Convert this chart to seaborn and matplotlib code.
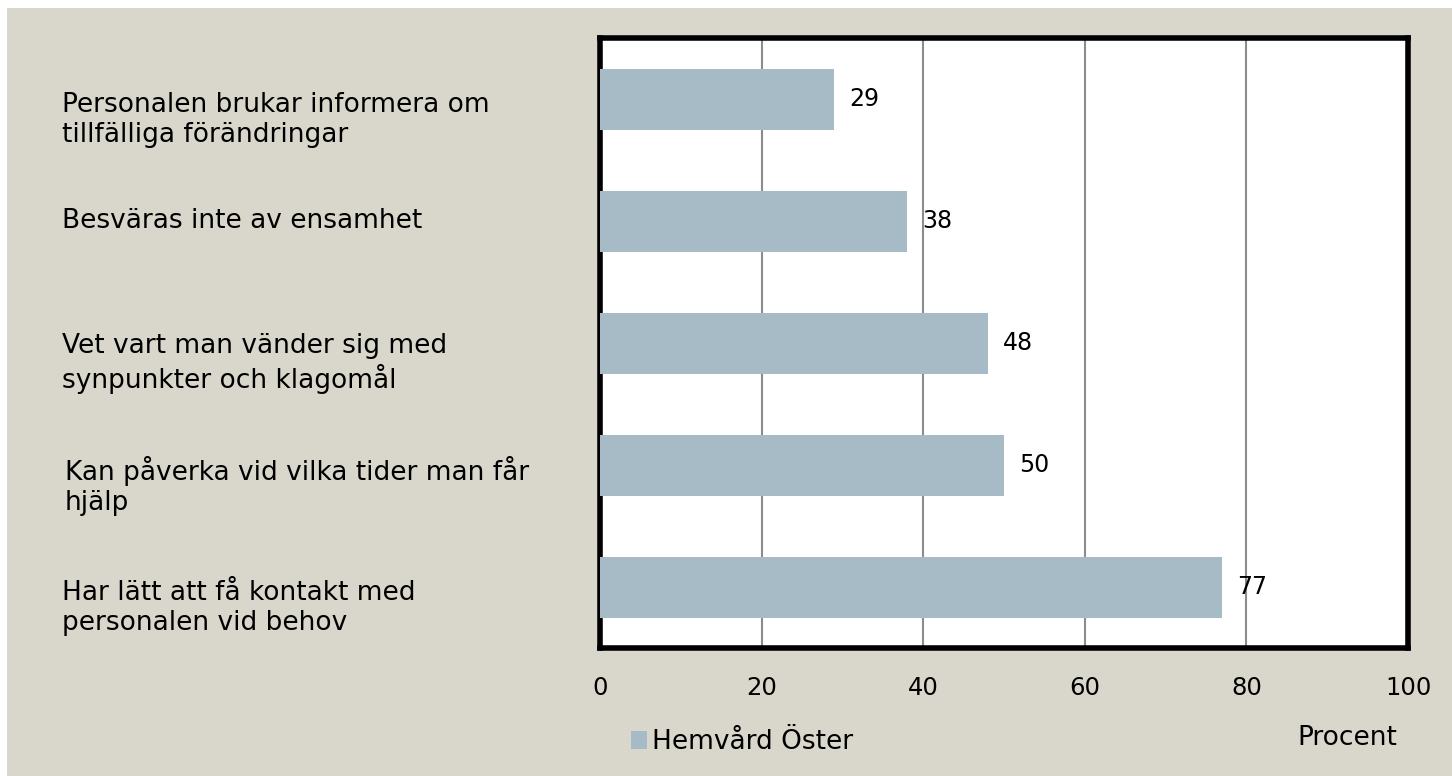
import matplotlib
matplotlib.use("Agg")
import matplotlib.pyplot as plt
import seaborn as sns
import pandas as pd
from matplotlib.patches import Rectangle, Patch
from matplotlib.transforms import blended_transform_factory

categories = [
    "Personalen brukar informera om\ntillfälliga förändringar",
    "Besväras inte av ensamhet",
    "Vet vart man vänder sig med\nsynpunkter och klagomål",
    "Kan påverka vid vilka tider man får\nhjälp",
    "Har lätt att få kontakt med\npersonalen vid behov",
]
values = [29, 38, 48, 50, 77]
series_name = "Hemvård Öster"
x_ticks = [0, 20, 40, 60, 80, 100]
x_label = "Procent"

bar_color = "#A7BBC6"
bg_color = "#D9D7CB"

sns.set_theme(style="white")
plt.rcParams["font.family"] = ["DejaVu Sans"]
plt.rcParams["text.color"] = "black"
plt.rcParams["xtick.color"] = "black"
plt.rcParams["axes.labelcolor"] = "black"

W, H = 1452, 776
fig = plt.figure(figsize=(W / 100, H / 100), dpi=100)
fig.patch.set_facecolor("white")
fig.patches.append(Rectangle((7 / W, 0), 1 - 7 / W, 1 - 8 / H, transform=fig.transFigure,
                             facecolor=bg_color, edgecolor="none", zorder=-10))

ax = fig.add_axes([600 / W, 1 - 648 / H, 808 / W, 610 / H])
ax.set_facecolor("white")

df = pd.DataFrame({"item": categories, "value": values})
sns.barplot(data=df, x="value", y="item", color=bar_color, width=0.5,
            saturation=1, linewidth=0, ax=ax, zorder=3)

ax.set_xlim(0, 100)
ax.set_ylim(len(categories) - 0.5, -0.5)
ax.set_xticks(x_ticks)
ax.set_xticklabels([str(t) for t in x_ticks], fontsize=17.5)
ax.tick_params(axis="x", length=0, pad=20)
ax.set_yticks([])
ax.set_ylabel("")
ax.set_xlabel(x_label, fontsize=19)
ax.xaxis.set_label_coords((1347 - 600) / 808, (648 - 725) / 610)

for t in x_ticks[1:-1]:
    ax.axvline(t, color="#8C8C8C", lw=1.5, zorder=1)

for s in ax.spines.values():
    s.set_visible(True)
    s.set_color("black")
    s.set_linewidth(4)

ax.bar_label(ax.containers[0], labels=[str(v) for v in values], padding=11, fontsize=17)

# category labels, left aligned in the margin
trans = blended_transform_factory(fig.transFigure, ax.transData)
for i, lab in enumerate(categories):
    x0 = 65 if lab.startswith("Kan") else 62
    ax.text(x0 / W, i + 0.17 * lab.count("\n"), lab, transform=trans, ha="left",
            va="center", fontsize=19, linespacing=1.22, clip_on=False)

fig.legend(handles=[Patch(facecolor=bar_color, edgecolor="none", label=series_name)],
           loc="center left", bbox_to_anchor=(607 / W, 1 - 742 / H), frameon=False,
           fontsize=19, handlelength=0.6, handleheight=0.7, handletextpad=0.2)

fig.savefig("out.png", dpi=100)
